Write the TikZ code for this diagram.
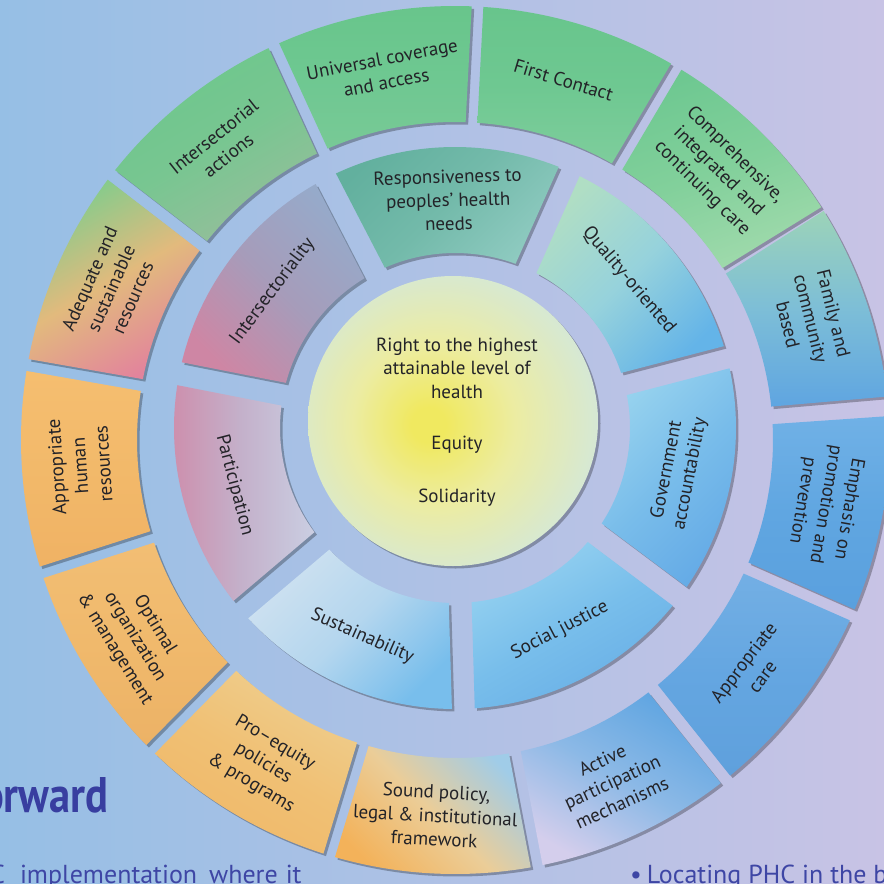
\documentclass[tikz,border=0pt]{standalone}
\usepackage{fontspec}
\setmainfont{PT Sans}
\usetikzlibrary{calc}

\definecolor{bgL}{RGB}{150,191,229}
\definecolor{bgR}{RGB}{200,195,229}
\definecolor{txt}{RGB}{35,35,40}
\definecolor{ttl}{RGB}{56,62,160}
\definecolor{bodyblue}{RGB}{62,70,165}

% outer ring colours
\definecolor{oAt}{RGB}{104,197,139}\definecolor{oAm}{RGB}{110,200,145}\definecolor{oAb}{RGB}{120,201,150}
\definecolor{oBt}{RGB}{108,199,140}\definecolor{oBm}{RGB}{120,198,145}\definecolor{oBb}{RGB}{150,190,155}
\definecolor{oCt}{RGB}{130,204,140}\definecolor{oCm}{RGB}{226,186,125}\definecolor{oCb}{RGB}{226,132,156}
\definecolor{oDt}{RGB}{245,190,112}\definecolor{oDm}{RGB}{242,185,106}\definecolor{oDb}{RGB}{240,178,100}
\definecolor{oEt}{RGB}{242,190,116}\definecolor{oEm}{RGB}{240,185,108}\definecolor{oEb}{RGB}{236,178,102}
\definecolor{oFt}{RGB}{238,206,142}\definecolor{oFm}{RGB}{240,192,116}\definecolor{oFb}{RGB}{240,184,104}
\definecolor{oGt}{RGB}{160,204,232}\definecolor{oGm}{RGB}{235,205,152}\definecolor{oGb}{RGB}{243,178,90}
\definecolor{oHt}{RGB}{95,165,225}\definecolor{oHm}{RGB}{140,185,230}\definecolor{oHb}{RGB}{212,206,236}
\definecolor{oIt}{RGB}{115,175,228}\definecolor{oIm}{RGB}{100,166,225}\definecolor{oIb}{RGB}{95,160,220}
\definecolor{oJt}{RGB}{112,177,230}\definecolor{oJm}{RGB}{96,166,225}\definecolor{oJb}{RGB}{90,160,222}
\definecolor{oKt}{RGB}{156,211,184}\definecolor{oKm}{RGB}{125,190,215}\definecolor{oKb}{RGB}{95,165,225}
\definecolor{oLt}{RGB}{110,200,145}\definecolor{oLm}{RGB}{130,208,155}\definecolor{oLb}{RGB}{160,218,172}
\definecolor{oMt}{RGB}{104,197,140}\definecolor{oMm}{RGB}{110,200,145}\definecolor{oMb}{RGB}{126,205,156}

% middle ring colours
\definecolor{mAt}{RGB}{98,176,158}\definecolor{mAm}{RGB}{115,186,170}\definecolor{mAb}{RGB}{142,202,192}
\definecolor{mBt}{RGB}{150,170,202}\definecolor{mBm}{RGB}{166,156,186}\definecolor{mBb}{RGB}{206,134,164}
\definecolor{mCt}{RGB}{202,206,226}\definecolor{mCm}{RGB}{196,176,202}\definecolor{mCb}{RGB}{206,140,170}
\definecolor{mDt}{RGB}{206,225,240}\definecolor{mDm}{RGB}{180,214,238}\definecolor{mDb}{RGB}{120,190,236}
\definecolor{mEt}{RGB}{150,210,240}\definecolor{mEm}{RGB}{120,190,235}\definecolor{mEb}{RGB}{104,174,230}
\definecolor{mFt}{RGB}{150,210,238}\definecolor{mFm}{RGB}{120,188,234}\definecolor{mFb}{RGB}{100,170,230}
\definecolor{mGt}{RGB}{176,222,196}\definecolor{mGm}{RGB}{150,210,220}\definecolor{mGb}{RGB}{100,180,232}

% hub colours
\definecolor{hubA}{RGB}{240,233,96}
\definecolor{hubB}{RGB}{236,236,162}
\definecolor{hubC}{RGB}{212,232,216}
\definecolor{hubD}{RGB}{178,220,236}
\pgfdeclareradialshading{hub}{\pgfpoint{-4.5bp}{-0.7bp}}{%
  color(0bp)=(hubA); color(3bp)=(hubA); color(14bp)=(hubB); color(28bp)=(hubC); color(50bp)=(hubD)}

\begin{document}
\begin{tikzpicture}[x=1pt,y=1pt,
  lbl/.style={text=txt, align=center, font=\fontsize{19}{23.5}\selectfont, inner sep=0pt},
  segshadow/.style={fill=black, opacity=0.28}]
\useasboundingbox (0,0) rectangle (884,-884);
\clip (0,0) rectangle (884,-884);
\shade[left color=bgL, right color=bgR] (0,0) rectangle (884,-884);

% ---------- outer ring ----------
\def\ocx{455}\def\ocy{-440}
\foreach \ang/\ca/\cm/\cb/\sa/\rot/\txt [count=\i] in {
  100.85/oAt/oAm/oAb/0/10.85/{Universal coverage\\and access},
  128.5/oBt/oBm/oBb/30/38.5/{Intersectorial\\actions},
  156.2/oCt/oCm/oCb/30/66.2/{Adequate and\\sustainable\\resources},
  183.9/oDt/oDm/oDb/0/93.9/{Appropriate\\human\\resources},
  211.6/oEt/oEm/oEb/0/-58.4/{Optimal\\organization\\\& management},
  239.3/oFt/oFm/oFb/-30/-30.7/{Pro–equity\\policies\\\& programs},
  267/oGt/oGm/oGb/-45/-3/{Sound policy,\\legal \& institutional\\framework},
  294.7/oHt/oHm/oHb/-30/24.7/{Active\\participation\\mechanisms},
  322.4/oIt/oIm/oIb/0/52.4/{Appropriate\\care},
  350.1/oJt/oJm/oJb/0/-99.9/{Emphasis on\\promotion and\\prevention},
  18.8/oKt/oKm/oKb/0/-76/{Family and\\community\\based},
  45.5/oLt/oLm/oLb/20/-44.5/{Comprehensive,\\integrated and\\continuing care},
  73.2/oMt/oMm/oMb/0/-16.8/{First Contact}}
{
  \pgfmathsetmacro\tA{\ang-13.846+asin(6/434)}
  \pgfmathsetmacro\tB{\ang+13.846-asin(6/434)}
  \pgfmathsetmacro\tC{\ang+13.846-asin(6/318)}
  \pgfmathsetmacro\tD{\ang-13.846+asin(6/318)}
  \fill[segshadow, shift={(\ocx+2.5,\ocy-2.5)}] (\tA:434) arc[start angle=\tA, end angle=\tB, radius=434]
     -- (\tC:318) arc[start angle=\tC, end angle=\tD, radius=318] -- cycle;
  \shade[top color=\ca, bottom color=\cb, middle color=\cm, shading angle=\sa, shift={(\ocx,\ocy)}]
     (\tA:434) arc[start angle=\tA, end angle=\tB, radius=434]
     -- (\tC:318) arc[start angle=\tC, end angle=\tD, radius=318] -- cycle;
  \node[lbl, rotate=\rot] (o\i) at ([shift={(\ocx,\ocy)}]\ang:376) {\txt};
}

% ---------- middle ring ----------
\def\mcx{455}\def\mcy{-428}
\foreach \ang/\ca/\cm/\cb/\sa/\rot/\txt [count=\i] in {
  91.7/mAt/mAm/mAb/45/1.7/{Responsiveness to\\peoples’ health\\needs},
  143.1/mBt/mBm/mBb/-45/53.1/{Intersectoriality},
  194.6/mCt/mCm/mCb/-90/-75.4/{Participation},
  246/mDt/mDm/mDb/45/-24/{Sustainability},
  297.4/mEt/mEm/mEb/30/27.4/{Social justice},
  348.9/mFt/mFm/mFb/45/78.9/{Government\\accountability},
  40.3/mGt/mGm/mGb/45/-49.7/{Quality-oriented}}
{
  \pgfmathsetmacro\tA{\ang-25.714+asin(11.5/281)}
  \pgfmathsetmacro\tB{\ang+25.714-asin(11.5/281)}
  \pgfmathsetmacro\tC{\ang+25.714-asin(11.5/175)}
  \pgfmathsetmacro\tD{\ang-25.714+asin(11.5/175)}
  \fill[segshadow, shift={(\mcx+2.5,\mcy-2.5)}] (\tA:281) arc[start angle=\tA, end angle=\tB, radius=281]
     -- (\tC:175) arc[start angle=\tC, end angle=\tD, radius=175] -- cycle;
  \shade[top color=\ca, bottom color=\cb, middle color=\cm, shading angle=\sa, shift={(\mcx,\mcy)}]
     (\tA:281) arc[start angle=\tA, end angle=\tB, radius=281]
     -- (\tC:175) arc[start angle=\tC, end angle=\tD, radius=175] -- cycle;
  \node[lbl, rotate=\rot] (m\i) at ([shift={(\mcx,\mcy)}]\ang:228) {\txt};
}

% ---------- hub ----------
\fill[segshadow] (455.5,-423.5) circle (145);
\shade[shading=hub] (453,-421) circle (145);
\node[lbl] (hub1) at (457,-368) {Right to the highest\\attainable level of\\health};
\node[lbl, anchor=base] (hub2) at (457,-449) {Equity};
\node[lbl, anchor=base] (hub3) at (457,-502) {Solidarity};

% ---------- page text around ----------
\node[anchor=base west, inner sep=0pt, text=ttl, font=\bfseries\fontsize{50}{50}\selectfont, xscale=0.85] (title) at (-19,-812) {orward};
\node[anchor=base west, inner sep=0pt, text=bodyblue, font=\fontsize{26}{26}\selectfont] (body1) at (-10,-883) {C\hspace{15pt}implementation\hspace{12pt}where\hspace{8pt}it};
\node[anchor=base west, inner sep=0pt, text=bodyblue, font=\fontsize{26}{26}\selectfont] (body2) at (630,-883) {•\hspace{5pt}Locating PHC in the b};
\end{tikzpicture}
\end{document}
